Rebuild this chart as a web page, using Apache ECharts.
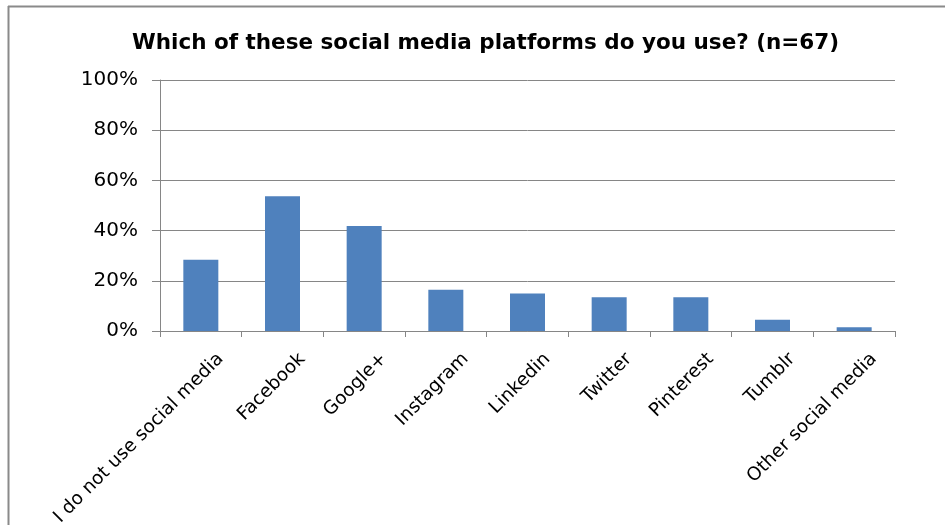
<!DOCTYPE html>
<html><head><meta charset="utf-8">
<script src="https://cdn.jsdelivr.net/npm/echarts@6/dist/echarts.min.js"></script>
<style>html,body{margin:0;padding:0;background:#fff}#c{width:945px;height:525px}</style>
</head><body><div id="c"></div>
<script>
var titleText = 'Which of these social media platforms do you use? (n=67)';
var categories = ['I do not use social media','Facebook','Google+','Instagram','Linkedin','Twitter','Pinterest','Tumblr','Other social media'];
var values = [28.4, 53.7, 41.8, 16.4, 14.9, 13.4, 13.4, 4.5, 1.5];
var yTicks = [0, 20, 40, 60, 80, 100];

var chart = echarts.init(document.getElementById('c'), null, {renderer:'canvas'});
var font = 'DejaVu Sans, sans-serif';
chart.setOption({
  animation:false,
  backgroundColor:'#fff',
  title:{text:titleText,left:127,top:27,textStyle:{fontFamily:font,fontSize:21.5,fontWeight:'bold',color:'#000'}},
  grid:{left:160,right:50,top:80,bottom:194,containLabel:false,outerBoundsMode:'none'},
  xAxis:{type:'category',data:categories,boundaryGap:true,
    axisLine:{lineStyle:{color:'#868686',width:1}},
    axisTick:{show:true,length:6,lineStyle:{color:'#868686'},alignWithLabel:false},
    axisLabel:{rotate:45,interval:0,fontFamily:font,fontSize:18.5,color:'#000',margin:45,padding:[0,-28,0,0]}},
  yAxis:{type:'value',min:yTicks[0],max:yTicks[yTicks.length-1],interval:20,
    axisLine:{show:true,lineStyle:{color:'#868686'}},
    axisTick:{show:true,length:8,lineStyle:{color:'#868686'}},
    splitLine:{lineStyle:{color:'#868686',width:1}},
    axisLabel:{formatter:'{value}%',fontFamily:font,fontSize:20,color:'#000',margin:22}},
  series:[{type:'bar',data:values,barWidth:35,itemStyle:{color:'#4F81BD'}}],
  graphic:[
    {type:'line',shape:{x1:8.5,y1:6,x2:8.5,y2:525},style:{stroke:'#8a8a8a',lineWidth:2}},
    {type:'line',shape:{x1:8,y1:6.5,x2:945,y2:6.5},style:{stroke:'#8a8a8a',lineWidth:2}}
  ]
});
</script></body></html>
